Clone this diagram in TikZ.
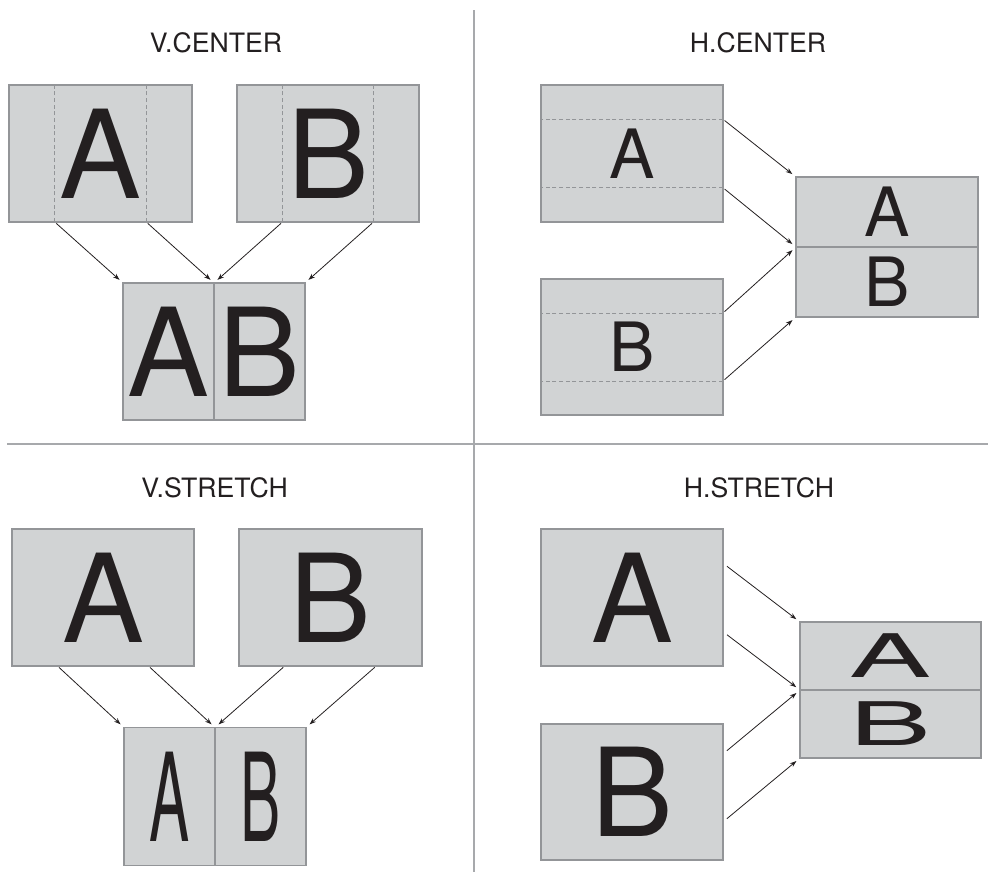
\documentclass[tikz,border=0pt]{standalone}
\usepackage{fontspec}
\setmainfont{TeX Gyre Heros}
\usepackage{xcolor}
\usepackage{tikz}
\usetikzlibrary{positioning, arrows.meta, calc}

\definecolor{panefill}{RGB}{209,211,212}
\definecolor{paneedge}{RGB}{147,149,152}
\definecolor{rulegray}{RGB}{167,169,172}
\definecolor{ink}{RGB}{35,31,32}

\begin{document}
\begin{tikzpicture}[
  x=0.75pt, y=-0.75pt,
  title/.style={font=\fontsize{20pt}{24pt}\selectfont, text=ink, inner sep=0pt},
  pane/.style={draw=paneedge, fill=panefill, line width=1pt, inner sep=0pt,
               outer sep=0pt, text=ink},
  big/.style={font=\fontsize{92pt}{92pt}\selectfont},
  mid/.style={font=\fontsize{51pt}{51pt}\selectfont},
  guide/.style={draw=paneedge, dash pattern=on 3pt off 2pt, line width=0.7pt},
  ar/.style={-{Stealth[length=5pt, width=3.5pt]}, draw=ink, line width=0.6pt,
             shorten >=3.5pt, shorten <=1.5pt},
  rule/.style={draw=rulegray, line width=1pt}
]
\useasboundingbox (0,0) rectangle (988,872);
% quarter dividers
\draw[rule] (474,10) -- (474,872);
\draw[rule] (7,444) -- (988,444);

% V.CENTER
\node[title] (vct) at (216,42.5) {V.CENTER};
\node[pane, big, minimum width=137.25pt, minimum height=102.75pt] (vca)
  at (100.5,153.5) {A};
\node[pane, big, minimum width=136.5pt, minimum height=102.75pt,
      right=33.75pt of vca] (vcb) {B};
\node[pane, big, minimum width=68.25pt, minimum height=102.75pt] (vcra)
  at (168.5,351.5) {A};
\node[pane, big, minimum width=68.25pt, minimum height=102.75pt,
      right=0pt of vcra] (vcrb) {B};
\coordinate (vca1) at ($(vca.south west)!.25!(vca.south east)$);
\coordinate (vca2) at ($(vca.south west)!.75!(vca.south east)$);
\coordinate (vcb1) at ($(vcb.south west)!.25!(vcb.south east)$);
\coordinate (vcb2) at ($(vcb.south west)!.75!(vcb.south east)$);
\foreach \p/\q in {vca1/vca, vca2/vca, vcb1/vcb, vcb2/vcb}
  \draw[guide] (\p) -- (\p |- \q.north);
\draw[ar] (vca1) -- (vcra.north west);
\draw[ar] (vca2) -- (vcra.north east);
\draw[ar] (vcb1) -- (vcrb.north west);
\draw[ar] (vcb2) -- (vcrb.north east);

% H.CENTER
\node[title] (hct) at (758,42.5) {H.CENTER};
\node[pane, mid, minimum width=136.5pt, minimum height=102.75pt] (hca)
  at (632,153.5) {A};
\node[pane, mid, minimum width=136.5pt, minimum height=102pt] (hcb)
  at (632,347) {B};
\node[pane, mid, minimum width=136.5pt, minimum height=52.5pt] (hcra)
  at (887,212) {A};
\node[pane, mid, minimum width=136.5pt, minimum height=52.5pt,
      below=0pt of hcra] (hcrb) {B};
\coordinate (hca1) at ($(hca.north east)!.25!(hca.south east)$);
\coordinate (hca2) at ($(hca.north east)!.75!(hca.south east)$);
\coordinate (hcb1) at ($(hcb.north east)!.25!(hcb.south east)$);
\coordinate (hcb2) at ($(hcb.north east)!.75!(hcb.south east)$);
\foreach \p/\q in {hca1/hca, hca2/hca, hcb1/hcb, hcb2/hcb}
  \draw[guide] (\p) -- (\p -| \q.west);
\draw[ar] (hca1) -- (hcra.north west);
\draw[ar] (hca2) -- (hcra.south west);
\draw[ar] (hcb1) -- (hcrb.north west);
\draw[ar] (hcb2) -- (hcrb.south west);

% V.STRETCH
\node[title] (vst) at (214.5,487.5) {V.STRETCH};
\node[pane, big, minimum width=136.5pt, minimum height=102.75pt] (vsa)
  at (103,597.5) {A};
\node[pane, big, minimum width=137.25pt, minimum height=102.75pt,
      right=33.75pt of vsa] (vsb) {B};
\node[pane, big, minimum width=68.25pt, minimum height=103.5pt] (vsra)
  at (169.5,796.5) {\scalebox{0.49}[1]{A}};
\node[pane, big, minimum width=68.25pt, minimum height=103.5pt,
      right=0pt of vsra] (vsrb) {\scalebox{0.49}[1]{B}};
\coordinate (vsa1) at ($(vsa.south west)!.25!(vsa.south east)$);
\coordinate (vsa2) at ($(vsa.south west)!.75!(vsa.south east)$);
\coordinate (vsb1) at ($(vsb.south west)!.25!(vsb.south east)$);
\coordinate (vsb2) at ($(vsb.south west)!.75!(vsb.south east)$);
\draw[ar] (vsa1) -- (vsra.north west);
\draw[ar] (vsa2) -- (vsra.north east);
\draw[ar] (vsb1) -- (vsrb.north west);
\draw[ar] (vsb2) -- (vsrb.north east);

% H.STRETCH
\node[title] (hst) at (759,487.5) {H.STRETCH};
\node[pane, big, minimum width=136.5pt, minimum height=102.75pt] (hsa)
  at (632,597.5) {A};
\node[pane, big, minimum width=136.5pt, minimum height=102pt] (hsb)
  at (632,792) {B};
\node[pane, big, minimum width=135.75pt, minimum height=51pt] (hsra)
  at (890.5,656) {\scalebox{1}[0.49]{A}};
\node[pane, big, minimum width=135.75pt, minimum height=51pt,
      below=0pt of hsra] (hsrb) {\scalebox{1}[0.49]{B}};
\coordinate (hsa1) at ($(hsa.north east)!.25!(hsa.south east)$);
\coordinate (hsa2) at ($(hsa.north east)!.75!(hsa.south east)$);
\coordinate (hsb1) at ($(hsb.north east)!.22!(hsb.south east)$);
\coordinate (hsb2) at ($(hsb.north east)!.72!(hsb.south east)$);
\draw[ar, shorten <=3.75pt] (hsa1) -- (hsra.north west);
\draw[ar, shorten <=3.75pt] (hsa2) -- (hsra.south west);
\draw[ar, shorten <=3.75pt] (hsb1) -- (hsrb.north west);
\draw[ar, shorten <=3.75pt] (hsb2) -- (hsrb.south west);
\end{tikzpicture}
\end{document}
